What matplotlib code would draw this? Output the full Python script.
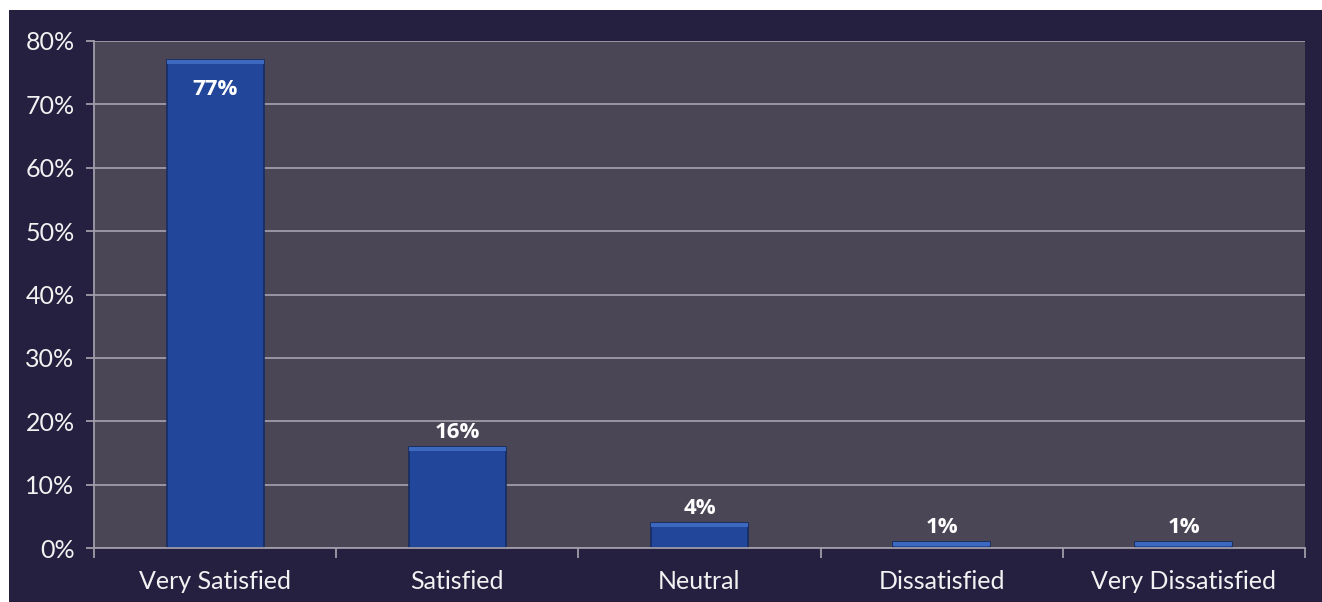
import matplotlib.pyplot as plt
import numpy as np
from matplotlib.ticker import FixedLocator, PercentFormatter

categories = ['Very Satisfied', 'Satisfied', 'Neutral', 'Dissatisfied', 'Very Dissatisfied']
values = [77, 16, 4, 1, 1]
value_labels = ['77%', '16%', '4%', '1%', '1%']

fig = plt.figure(figsize=(13.22, 6.02), dpi=100)
fig.patch.set_facecolor('white')

# dark backdrop panel behind the chart
panel = fig.add_axes([9 / 1322, 0, 1 - 9 / 1322, 1 - 10 / 602])
panel.set_facecolor('#252040')
panel.set_xticks([])
panel.set_yticks([])
for s in panel.spines.values():
    s.set_visible(False)

ax = fig.add_axes([94 / 1322, 54 / 602, 1211 / 1322, 507 / 602])
ax.set_facecolor('#4a4656')

x = np.arange(len(categories))
ax.bar(x, values, width=0.4, color='#22479a', edgecolor='#152c63', linewidth=1.2, zorder=3)
# lighter bevel along the top of each bar
ax.bar(x, [min(0.7, v) for v in values], bottom=[v - min(0.7, v) for v in values],
       width=0.4, color='#3d68c0', linewidth=0, zorder=4)

ax.set_xlim(-0.5, len(categories) - 0.5)
ax.set_ylim(0, 80)
ax.yaxis.set_major_locator(FixedLocator(np.arange(0, 81, 10)))
ax.yaxis.set_major_formatter(PercentFormatter(decimals=0))
ax.grid(axis='y', color='#a09ca8', linewidth=1.3, zorder=1)

ax.set_xticks(x)
ax.set_xticklabels(categories)
ax.xaxis.set_minor_locator(FixedLocator(np.arange(-0.5, len(categories), 1)))
ax.tick_params(axis='x', which='major', length=0, pad=16, labelsize=18, labelcolor='#f2f2f2')
ax.tick_params(axis='x', which='minor', length=7, color='#a09ca8', width=1.3)
ax.tick_params(axis='y', length=6, color='#a09ca8', width=1.3, labelsize=18,
               labelcolor='#f2f2f2', pad=8)
for lbl in ax.get_xticklabels() + ax.get_yticklabels():
    lbl.set_family(['Lato', 'DejaVu Sans'])

for side in ['top', 'right']:
    ax.spines[side].set_visible(False)
for side in ['left', 'bottom']:
    ax.spines[side].set_color('#a09ca8')
    ax.spines[side].set_linewidth(1.3)
    ax.spines[side].set_zorder(5)

for xi, v, txt in zip(x, values, value_labels):
    if v > 50:
        ax.text(xi, v - 3.0, txt, ha='center', va='top', color='white',
                fontsize=16, fontweight='bold', family=['Open Sans', 'DejaVu Sans'], zorder=6)
    else:
        ax.text(xi, v + 0.6, txt, ha='center', va='bottom', color='white',
                fontsize=16, fontweight='bold', family=['Open Sans', 'DejaVu Sans'], zorder=6)

plt.savefig('out.png', dpi=100, facecolor=fig.get_facecolor())
